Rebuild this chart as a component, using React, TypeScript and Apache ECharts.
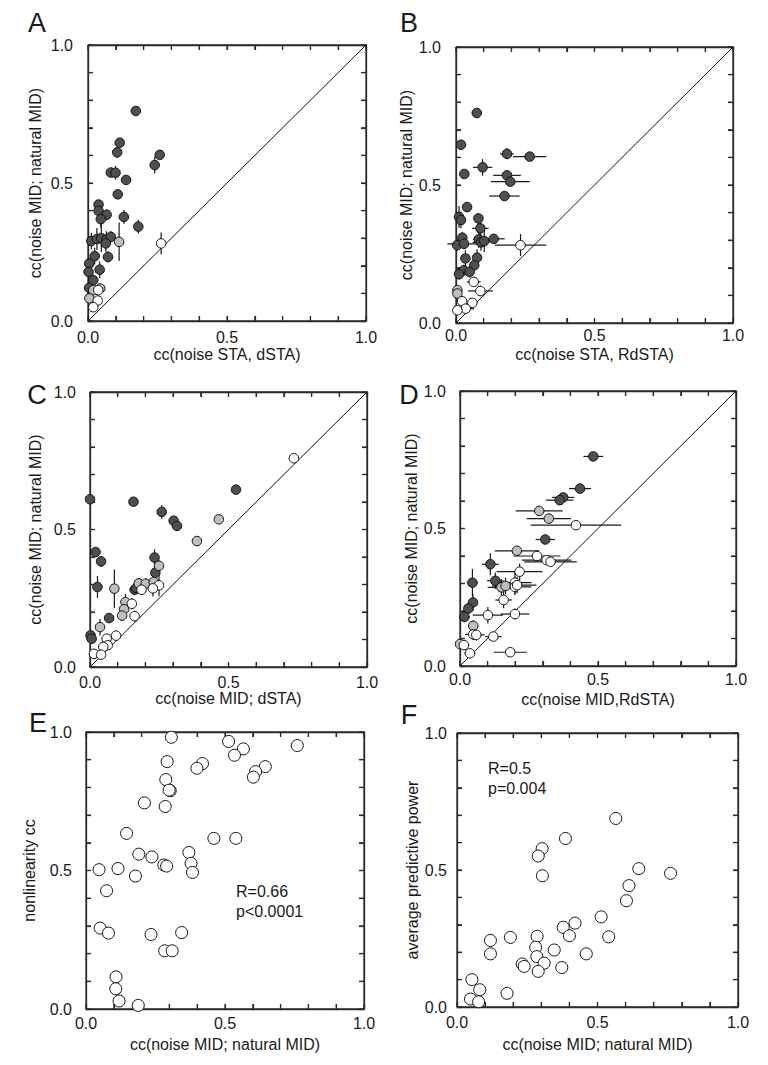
import React, { useEffect, useRef } from "react";
import * as echarts from "echarts";

// [x, y, xErr, yErr]
type P = [number, number, number, number];

const aDark: P[] = [
  [0.172, 0.761, 0, 0.01], [0.114, 0.646, 0, 0.015], [0.105, 0.611, 0, 0.02], [0.258, 0.602, 0, 0.01],
  [0.24, 0.565, 0, 0.03], [0.082, 0.538, 0, 0.01], [0.099, 0.537, 0, 0.025], [0.137, 0.511, 0, 0.01],
  [0.107, 0.459, 0, 0.015], [0.038, 0.422, 0, 0.01], [0.038, 0.399, 0, 0.02], [0.067, 0.385, 0, 0.02],
  [0.046, 0.369, 0, 0.03], [0.129, 0.377, 0, 0.025], [0.181, 0.342, 0, 0.025], [0.012, 0.29, 0, 0.03],
  [0.032, 0.297, 0, 0.04], [0.048, 0.3, 0, 0.05], [0.066, 0.295, 0, 0.03], [0.082, 0.305, 0, 0.02],
  [0.064, 0.281, 0, 0.03], [0.024, 0.235, 0, 0.03], [0.072, 0.232, 0, 0.02], [0.004, 0.208, 0, 0.02],
  [0.002, 0.178, 0, 0.02], [0.042, 0.186, 0, 0.03], [0.019, 0.148, 0, 0.02], [0.004, 0.12, 0, 0.01],
];
const aGray: P[] = [
  [0.112, 0.287, 0, 0.07], [0.019, 0.112, 0, 0.01], [0.044, 0.118, 0, 0.01], [0.005, 0.082, 0, 0.01],
];
const aWhite: P[] = [
  [0.263, 0.281, 0, 0.04], [0.037, 0.112, 0, 0.01], [0.035, 0.074, 0, 0.01], [0.019, 0.05, 0, 0.01],
];

const bDark: P[] = [
  [0.075, 0.761, 0, 0], [0.018, 0.646, 0, 0], [0.184, 0.613, 0.025, 0.02], [0.266, 0.603, 0.06, 0],
  [0.096, 0.564, 0.035, 0.03], [0.03, 0.54, 0, 0], [0.184, 0.535, 0.05, 0.01], [0.196, 0.512, 0.07, 0],
  [0.175, 0.46, 0.055, 0], [0.04, 0.42, 0, 0], [0.011, 0.384, 0, 0.04], [0.018, 0.373, 0, 0.03],
  [0.081, 0.379, 0, 0.02], [0.088, 0.343, 0.03, 0.03], [0.023, 0.309, 0, 0.02], [0.004, 0.282, 0, 0.02],
  [0.029, 0.287, 0.06, 0.02], [0.082, 0.303, 0.02, 0.03], [0.09, 0.292, 0.03, 0.03], [0.102, 0.297, 0.03, 0.04],
  [0.136, 0.305, 0.04, 0], [0.034, 0.234, 0, 0.03], [0.076, 0.237, 0, 0.03], [0.066, 0.209, 0, 0.02],
  [0.028, 0.191, 0, 0.02], [0.011, 0.177, 0, 0.02], [0.049, 0.185, 0, 0.02],
];
const bGray: P[] = [[0.005, 0.119, 0, 0], [0.005, 0.107, 0, 0]];
const bWhite: P[] = [
  [0.233, 0.282, 0.093, 0.04], [0.064, 0.149, 0.025, 0], [0.088, 0.116, 0.045, 0.02], [0.022, 0.079, 0, 0],
  [0.059, 0.073, 0, 0], [0.035, 0.052, 0.03, 0], [0.005, 0.046, 0, 0],
];

const cDark: P[] = [
  [0.0, 0.61, 0, 0.01], [0.157, 0.601, 0, 0], [0.527, 0.645, 0, 0.01], [0.259, 0.564, 0, 0.025],
  [0.302, 0.532, 0, 0], [0.314, 0.513, 0, 0], [0.02, 0.418, 0, 0], [0.04, 0.384, 0, 0.02],
  [0.233, 0.398, 0.01, 0.03], [0.236, 0.343, 0, 0.02], [0.027, 0.291, 0, 0.04], [0.161, 0.281, 0, 0.02],
  [0.167, 0.287, 0, 0.02], [0.069, 0.178, 0, 0.01], [0.002, 0.115, 0, 0.01], [0.006, 0.103, 0, 0.01],
];
const cGray: P[] = [
  [0.465, 0.537, 0.015, 0], [0.386, 0.458, 0.015, 0], [0.249, 0.368, 0.015, 0.02], [0.088, 0.285, 0, 0.07],
  [0.176, 0.304, 0, 0.02], [0.201, 0.303, 0, 0.02], [0.23, 0.309, 0, 0.04], [0.128, 0.236, 0, 0.03],
  [0.123, 0.21, 0, 0.03], [0.116, 0.187, 0, 0.02], [0.036, 0.145, 0, 0.03],
];
const cWhite: P[] = [
  [0.736, 0.759, 0, 0], [0.249, 0.297, 0, 0.04], [0.227, 0.286, 0, 0.03], [0.186, 0.281, 0, 0.02],
  [0.151, 0.23, 0, 0.02], [0.161, 0.185, 0, 0.02], [0.094, 0.114, 0, 0], [0.06, 0.103, 0, 0],
  [0.064, 0.079, 0, 0], [0.048, 0.073, 0, 0], [0.014, 0.048, 0, 0], [0.04, 0.045, 0, 0],
];

const dDark: P[] = [
  [0.483, 0.762, 0.036, 0], [0.435, 0.645, 0.04, 0], [0.374, 0.613, 0.04, 0], [0.361, 0.603, 0.05, 0],
  [0.309, 0.46, 0.035, 0], [0.11, 0.37, 0.03, 0.04], [0.128, 0.31, 0.03, 0.03], [0.045, 0.303, 0.02, 0.05],
  [0.047, 0.231, 0, 0.03], [0.03, 0.209, 0, 0.02], [0.016, 0.179, 0.02, 0.02],
];
const dGray: P[] = [
  [0.287, 0.564, 0.085, 0], [0.322, 0.536, 0.08, 0], [0.206, 0.419, 0.08, 0], [0.15, 0.286, 0.05, 0.03],
  [0.165, 0.291, 0.05, 0.03], [0.048, 0.146, 0, 0.02], [0.0, 0.08, 0, 0],
];
const dWhite: P[] = [
  [0.42, 0.512, 0.164, 0], [0.279, 0.4, 0.085, 0.02], [0.314, 0.385, 0.09, 0], [0.328, 0.379, 0.095, 0],
  [0.216, 0.343, 0.083, 0.03], [0.199, 0.303, 0.06, 0.04], [0.199, 0.288, 0.06, 0.03], [0.207, 0.294, 0.07, 0.03],
  [0.158, 0.24, 0.03, 0.03], [0.101, 0.185, 0.055, 0.03], [0.199, 0.189, 0.052, 0.02], [0.048, 0.115, 0.03, 0.02],
  [0.059, 0.113, 0.03, 0.02], [0.121, 0.107, 0.03, 0.01], [0.014, 0.076, 0.02, 0], [0.036, 0.046, 0.02, 0],
  [0.182, 0.05, 0.06, 0],
];

const ePoints: [number, number][] = [
  [0.307, 0.981], [0.513, 0.966], [0.76, 0.951], [0.566, 0.939], [0.534, 0.916], [0.292, 0.893],
  [0.419, 0.886], [0.399, 0.869], [0.645, 0.875], [0.61, 0.857], [0.602, 0.837], [0.287, 0.828],
  [0.303, 0.788], [0.299, 0.79], [0.21, 0.744], [0.285, 0.731], [0.146, 0.634], [0.46, 0.616],
  [0.539, 0.616], [0.19, 0.559], [0.237, 0.549], [0.37, 0.565], [0.378, 0.526], [0.383, 0.493],
  [0.28, 0.52], [0.29, 0.516], [0.047, 0.503], [0.115, 0.507], [0.178, 0.48], [0.074, 0.427],
  [0.051, 0.292], [0.081, 0.274], [0.234, 0.269], [0.344, 0.276], [0.283, 0.21], [0.31, 0.21],
  [0.108, 0.116], [0.107, 0.073], [0.119, 0.029], [0.188, 0.013],
];

const fPoints: [number, number][] = [
  [0.565, 0.688], [0.386, 0.615], [0.303, 0.578], [0.289, 0.551], [0.304, 0.479], [0.647, 0.505],
  [0.76, 0.488], [0.612, 0.443], [0.603, 0.388], [0.513, 0.329], [0.42, 0.306], [0.378, 0.291],
  [0.4, 0.26], [0.54, 0.256], [0.285, 0.258], [0.119, 0.243], [0.19, 0.254], [0.28, 0.218],
  [0.346, 0.208], [0.119, 0.194], [0.46, 0.194], [0.284, 0.184], [0.31, 0.16], [0.232, 0.157],
  [0.239, 0.148], [0.373, 0.144], [0.289, 0.13], [0.053, 0.1], [0.081, 0.063], [0.178, 0.05],
  [0.048, 0.029], [0.077, 0.019],
];

const xTitles = [
  "cc(noise STA, dSTA)", "cc(noise STA, RdSTA)", "cc(noise MID; dSTA)",
  "cc(noise MID,RdSTA)", "cc(noise MID; natural MID)", "cc(noise MID; natural MID)",
];
const yTitles = [
  "cc(noise MID; natural MID)", "cc(noise MID; natural MID)", "cc(noise MID; natural MID)",
  "cc(noise MID; natural MID)", "nonlinearity cc", "average predictive power",
];
const panelLetters = ["A", "B", "C", "D", "E", "F"];
const labelValues = [0, 0.5, 1];
const tickValues = [0, 0.1, 0.2, 0.3, 0.4, 0.5, 0.6, 0.7, 0.8, 0.9, 1];
const statsE = ["R=0.66", "p<0.0001"];
const statsF = ["R=0.5", "p=0.004"];

// layout
const grids = [
  [88, 45, 278, 276], [456, 47, 277, 276], [90, 392, 277, 275],
  [460, 391, 276, 275], [86, 732, 278, 277], [457, 733, 281, 274],
];
const xNameGaps = [25, 23, 22, 25, 27, 29];
const yNameGaps = [45, 32, 47, 36, 49, 33];
const xLabelMargins = [8, 4, 7, 5, 6, 7];
const yLabelMargins = [15, 15, 14, 14, 14, 10];
const letterPos = [[37, 23], [409, 23], [37, 395], [409, 395], [38, 723], [409, 715]];

const FONT = "'Liberation Sans', Arial, Helvetica, sans-serif";
const AXIS_COLOR = "#2b2b2b";
const TEXT_COLOR = "#1a1a1a";
const TICK_LEN = 5;

export default function App() {
  const ref = useRef<HTMLDivElement>(null);
  useEffect(() => {
    if (!ref.current) return;
    const chart = echarts.init(ref.current, null, { renderer: "svg" });

    const grid = grids.map(([l, t, w, h]) => ({ left: l, top: t, width: w, height: h }));
    const baseAxis = {
      type: "value" as const,
      min: 0,
      max: 1,
      interval: 0.1,
      splitLine: { show: false },
      axisLine: { show: true, onZero: false, lineStyle: { color: AXIS_COLOR, width: 1.3 } },
      axisTick: { show: true, inside: true, length: TICK_LEN, lineStyle: { color: AXIS_COLOR, width: 1.2 } },
    };
    const labelStyle = (margin: number) => ({
      customValues: labelValues,
      formatter: (v: number) => Number(v).toFixed(1),
      fontSize: 16,
      color: TEXT_COLOR,
      margin,
    });
    const xAxis: any[] = [];
    const yAxis: any[] = [];
    for (let i = 0; i < 6; i++) {
      xAxis.push({
        ...baseAxis,
        gridIndex: i,
        position: "bottom",
        name: xTitles[i],
        nameLocation: "middle",
        nameGap: xNameGaps[i],
        nameTextStyle: { fontSize: 16, color: TEXT_COLOR },
        axisLabel: labelStyle(xLabelMargins[i]),
      });
      yAxis.push({
        ...baseAxis,
        gridIndex: i,
        position: "left",
        name: yTitles[i],
        nameLocation: "middle",
        nameGap: yNameGaps[i],
        nameTextStyle: { fontSize: 16, color: TEXT_COLOR },
        axisLabel: labelStyle(yLabelMargins[i]),
      });
    }
    for (let i = 0; i < 6; i++) {
      xAxis.push({ ...baseAxis, gridIndex: i, position: "top", axisLabel: { show: false } });
      yAxis.push({ ...baseAxis, gridIndex: i, position: "right", axisLabel: { show: false } });
    }

    const seg = (x1: number, y1: number, x2: number, y2: number, w: number) => ({
      type: "line",
      shape: { x1, y1, x2, y2 },
      style: { stroke: AXIS_COLOR, lineWidth: w },
    });

    const series: any[] = [];
    // frame with inward ticks on all four sides, placed through each panel's scales
    for (let i = 0; i < 6; i++) {
      series.push({
        type: "custom",
        xAxisIndex: i,
        yAxisIndex: i,
        clip: false,
        silent: true,
        z: 1,
        data: [[0, 0]],
        renderItem: (params: any, api: any) => {
          const p0 = api.coord([0, 0]);
          const p1 = api.coord([1, 1]);
          const x0 = p0[0], y0 = p0[1], x1 = p1[0], y1 = p1[1];
          const children: any[] = [
            seg(x0, y0, x1, y0, 1.3), seg(x0, y1, x1, y1, 1.3),
            seg(x0, y0, x0, y1, 1.3), seg(x1, y0, x1, y1, 1.3),
          ];
          tickValues.forEach((t) => {
            const px = api.coord([t, 0])[0];
            const py = api.coord([0, t])[1];
            children.push(seg(px, y0, px, y0 - TICK_LEN, 1.2));
            children.push(seg(px, y1, px, y1 + TICK_LEN, 1.2));
            children.push(seg(x0, py, x0 + TICK_LEN, py, 1.2));
            children.push(seg(x1, py, x1 - TICK_LEN, py, 1.2));
          });
          return { type: "group", children };
        },
      });
    }

    const groups: [P[], P[], P[]][] = [
      [aDark, aGray, aWhite],
      [bDark, bGray, bWhite],
      [cDark, cGray, cWhite],
      [dDark, dGray, dWhite],
    ];
    const fills = ["#4f4f4f", "#bebebe", "#ffffff"];
    groups.forEach((g, i) => {
      series.push({
        type: "line",
        xAxisIndex: i,
        yAxisIndex: i,
        data: [[0, 0], [1, 1]],
        showSymbol: false,
        symbol: "none",
        lineStyle: { color: "#111", width: 1 },
        z: 1,
        silent: true,
      });
      series.push({
        type: "custom",
        xAxisIndex: i,
        yAxisIndex: i,
        clip: false,
        z: 2,
        data: [...g[0], ...g[1], ...g[2]],
        renderItem: (params: any, api: any) => {
          const x = api.value(0);
          const y = api.value(1);
          const ex = api.value(2);
          const ey = api.value(3);
          const children: any[] = [];
          const style = { stroke: "#1a1a1a", lineWidth: 1.2 };
          if (ex > 0) {
            const p1 = api.coord([x - ex, y]);
            const p2 = api.coord([x + ex, y]);
            children.push({ type: "line", shape: { x1: p1[0], y1: p1[1], x2: p2[0], y2: p2[1] }, style });
          }
          if (ey > 0) {
            const p1 = api.coord([x, y - ey]);
            const p2 = api.coord([x, y + ey]);
            children.push({ type: "line", shape: { x1: p1[0], y1: p1[1], x2: p2[0], y2: p2[1] }, style });
          }
          return { type: "group", children };
        },
      });
      g.forEach((pts, k) => {
        series.push({
          type: "scatter",
          xAxisIndex: i,
          yAxisIndex: i,
          clip: false,
          z: 3 + k,
          symbol: "circle",
          symbolSize: 9.5,
          data: pts.map((p) => [p[0], p[1]]),
          itemStyle: { color: fills[k], borderColor: "#111", borderWidth: 1, opacity: 1 },
        });
      });
    });
    [ePoints, fPoints].forEach((pts, j) => {
      const i = 4 + j;
      series.push({
        type: "scatter",
        xAxisIndex: i,
        yAxisIndex: i,
        clip: false,
        z: 3,
        symbol: "circle",
        symbolSize: 12,
        data: pts,
        itemStyle: { color: "#ffffff", borderColor: "#111", borderWidth: 1, opacity: 1 },
      });
    });

    const graphic: any[] = panelLetters.map((t, i) => ({
      type: "text",
      x: letterPos[i][0],
      y: letterPos[i][1],
      style: { text: t, fontSize: 27, fontFamily: FONT, fill: TEXT_COLOR, align: "center", verticalAlign: "middle" },
    }));
    statsE.forEach((t, k) =>
      graphic.push({
        type: "text",
        x: 236,
        y: 891 + k * 20,
        style: { text: t, fontSize: 16, fontFamily: FONT, fill: TEXT_COLOR, align: "left", verticalAlign: "middle" },
      })
    );
    statsF.forEach((t, k) =>
      graphic.push({
        type: "text",
        x: 488,
        y: 768 + k * 20,
        style: { text: t, fontSize: 16, fontFamily: FONT, fill: TEXT_COLOR, align: "left", verticalAlign: "middle" },
      })
    );

    chart.setOption({
      animation: false,
      textStyle: { fontFamily: FONT },
      grid,
      xAxis,
      yAxis,
      series,
      graphic,
    });
    return () => chart.dispose();
  }, []);
  return (
    <div
      ref={ref}
      style={{ position: "absolute", left: 0, top: 0, width: 768, height: 1065, background: "#fff" }}
    />
  );
}
